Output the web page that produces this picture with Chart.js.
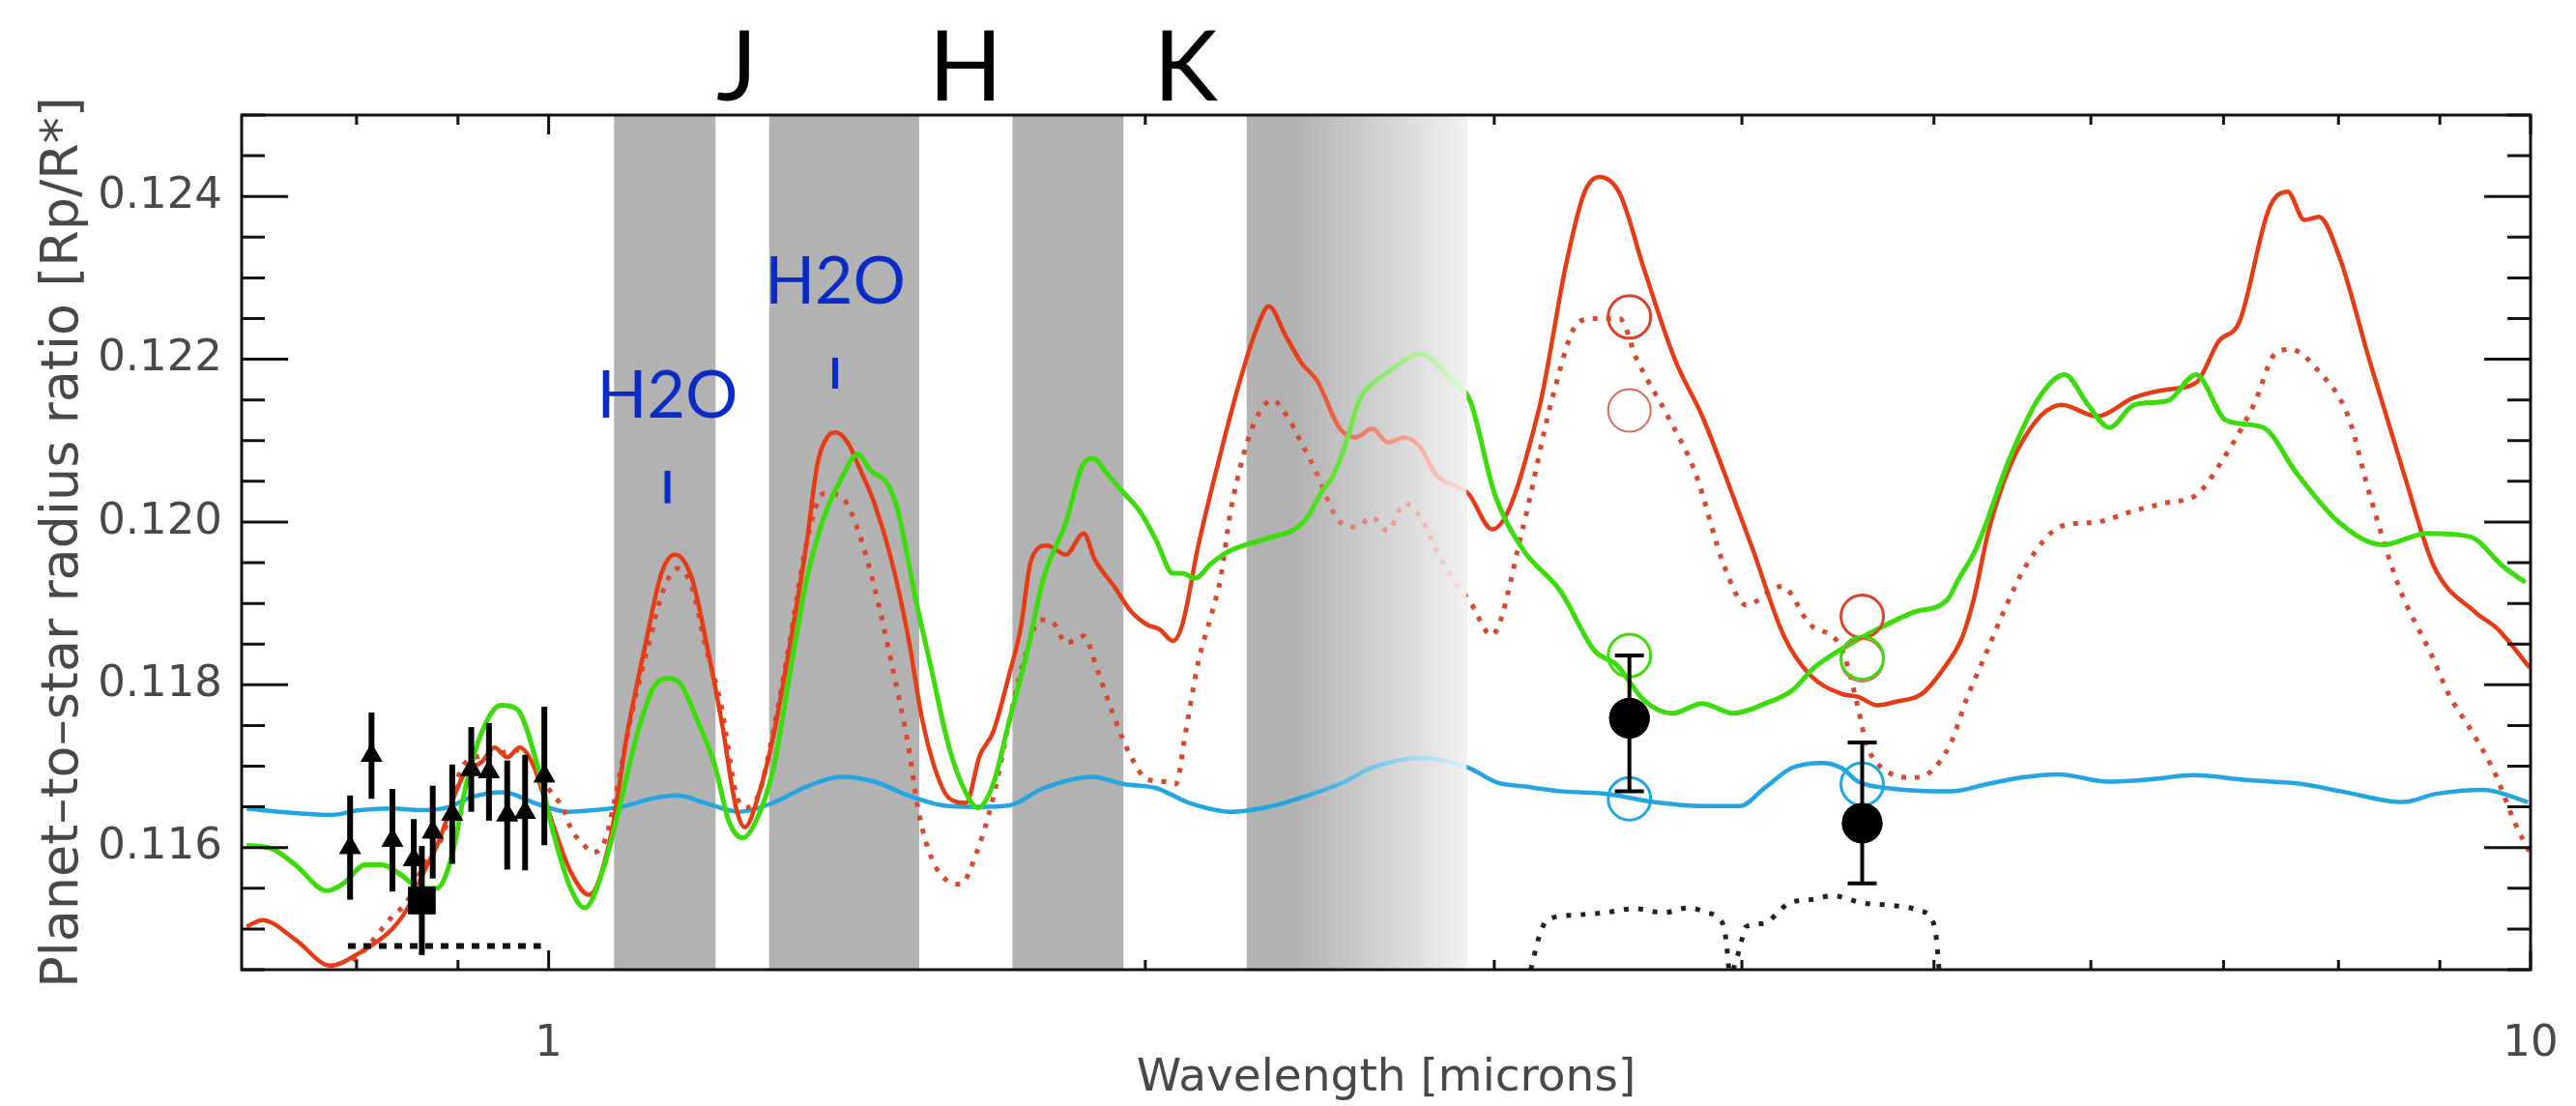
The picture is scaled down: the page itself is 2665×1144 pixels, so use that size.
<!DOCTYPE html>
<html>
<head>
<meta charset="utf-8">
<script src="https://cdn.jsdelivr.net/npm/chart.js@4.4.0/dist/chart.umd.min.js"></script>
<style>
  html, body { margin: 0; padding: 0; background: #fff; }
  canvas { display: block; }
</style>
</head>
<body>
<canvas id="graph1" width="2665" height="1144"></canvas>
<script>
// [wavelength (microns), Rp/R*]
const redSolid = [[0.704,0.11503],[0.717,0.11511],[0.745,0.11487],[0.776,0.11455],[0.803,0.11471],[0.833,0.11499],[0.849,0.11526],[0.865,0.11570],[0.881,0.11610],[0.898,0.11669],[0.908,0.11693],[0.925,0.11705],[0.939,0.11723],[0.953,0.11711],[0.967,0.11723],[0.982,0.11702],[0.997,0.11654],[1.011,0.11610],[1.027,0.11568],[1.048,0.11542],[1.074,0.11610],[1.096,0.11742],[1.118,0.11845],[1.140,0.11937],[1.158,0.11960],[1.181,0.11931],[1.204,0.11839],[1.223,0.11753],[1.243,0.11650],[1.256,0.11625],[1.277,0.11667],[1.298,0.11736],[1.324,0.11851],[1.350,0.11977],[1.366,0.12069],[1.382,0.12104],[1.396,0.12110],[1.415,0.12098],[1.437,0.12063],[1.460,0.12023],[1.489,0.11954],[1.519,0.11857],[1.543,0.11759],[1.567,0.11696],[1.592,0.11661],[1.624,0.11655],[1.650,0.11713],[1.676,0.11742],[1.709,0.11816],[1.730,0.11868],[1.752,0.11954],[1.784,0.11971],[1.824,0.11960],[1.862,0.11986],[1.886,0.11954],[1.930,0.11920],[1.966,0.11891],[2.004,0.11874],[2.034,0.11868],[2.065,0.11854],[2.088,0.11874],[2.127,0.11971],[2.175,0.12069],[2.225,0.12161],[2.275,0.12236],[2.309,0.12265],[2.353,0.12230],[2.397,0.12196],[2.443,0.12173],[2.507,0.12115],[2.555,0.12104],[2.603,0.12115],[2.652,0.12098],[2.702,0.12104],[2.753,0.12092],[2.804,0.12058],[2.911,0.12035],[2.993,0.11991],[3.160,0.12139],[3.260,0.12315],[3.330,0.12404],[3.390,0.12424],[3.470,0.12404],[3.570,0.12311],[3.700,0.12200],[3.820,0.12130],[3.920,0.12060],[4.050,0.11967],[4.200,0.11860],[4.330,0.11812],[4.490,0.11789],[4.580,0.11785],[4.680,0.11775],[4.780,0.11779],[4.930,0.11789],[5.060,0.11821],[5.170,0.11860],[5.240,0.11908],[5.330,0.11991],[5.520,0.12092],[5.800,0.12144],[6.040,0.12130],[6.310,0.12153],[6.560,0.12163],[6.780,0.12171],[6.960,0.12222],[7.130,0.12246],[7.380,0.12385],[7.540,0.12406],[7.690,0.12371],[7.820,0.12375],[8.010,0.12325],[8.290,0.12200],[8.630,0.12060],[8.940,0.11945],[9.380,0.11889],[9.630,0.11868],[9.990,0.11821]];

const redDotted = [[0.797,0.11460],[0.808,0.11475],[0.833,0.11514],[0.849,0.11535],[0.865,0.11579],[0.884,0.11614],[0.904,0.11698],[0.925,0.11713],[0.949,0.11717],[0.967,0.11720],[0.986,0.11698],[1.004,0.11666],[1.016,0.11650],[1.027,0.11622],[1.042,0.11603],[1.053,0.11594],[1.068,0.11610],[1.079,0.11655],[1.100,0.11759],[1.122,0.11845],[1.144,0.11920],[1.162,0.11943],[1.181,0.11920],[1.199,0.11851],[1.223,0.11770],[1.243,0.11667],[1.258,0.11649],[1.277,0.11667],[1.298,0.11742],[1.324,0.11857],[1.350,0.11977],[1.377,0.12035],[1.404,0.12032],[1.421,0.12012],[1.443,0.11966],[1.466,0.11902],[1.489,0.11828],[1.519,0.11724],[1.537,0.11644],[1.561,0.11586],[1.592,0.11558],[1.614,0.11555],[1.643,0.11592],[1.676,0.11661],[1.709,0.11759],[1.736,0.11828],[1.771,0.11880],[1.800,0.11874],[1.824,0.11851],[1.862,0.11860],[1.893,0.11816],[1.930,0.11759],[1.966,0.11713],[2.004,0.11684],[2.049,0.11681],[2.072,0.11678],[2.096,0.11742],[2.127,0.11828],[2.159,0.11885],[2.183,0.11931],[2.208,0.12012],[2.241,0.12081],[2.275,0.12127],[2.318,0.12150],[2.362,0.12127],[2.397,0.12098],[2.443,0.12058],[2.470,0.12029],[2.507,0.12000],[2.555,0.11994],[2.603,0.12006],[2.652,0.11989],[2.702,0.12023],[2.753,0.12006],[2.804,0.11966],[2.857,0.11931],[2.920,0.11900],[2.990,0.11861],[3.100,0.11991],[3.210,0.12153],[3.310,0.12246],[3.370,0.12250],[3.470,0.12250],[3.540,0.12200],[3.670,0.12130],[3.790,0.12060],[3.920,0.11945],[4.020,0.11898],[4.190,0.11921],[4.330,0.11874],[4.490,0.11845],[4.580,0.11770],[4.620,0.11729],[4.740,0.11693],[4.880,0.11686],[4.980,0.11693],[5.100,0.11729],[5.190,0.11781],[5.300,0.11833],[5.420,0.11889],[5.560,0.11945],[5.800,0.11995],[6.040,0.12000],[6.310,0.12014],[6.560,0.12024],[6.780,0.12033],[7.020,0.12083],[7.250,0.12144],[7.440,0.12208],[7.570,0.12212],[7.820,0.12185],[8.090,0.12130],[8.290,0.12036],[8.580,0.11921],[8.920,0.11835],[9.090,0.11789],[9.350,0.11741],[9.600,0.11690],[9.820,0.11630],[9.990,0.11594]];

const green = [[0.704,0.11603],[0.726,0.11598],[0.745,0.11579],[0.773,0.11547],[0.788,0.11556],[0.808,0.11579],[0.824,0.11579],[0.842,0.11567],[0.862,0.11550],[0.878,0.11550],[0.894,0.11591],[0.908,0.11674],[0.925,0.11741],[0.946,0.11775],[0.964,0.11770],[0.986,0.11705],[1.005,0.11620],[1.025,0.11552],[1.043,0.11526],[1.066,0.11575],[1.087,0.11655],[1.109,0.11742],[1.131,0.11799],[1.151,0.11808],[1.167,0.11799],[1.190,0.11753],[1.213,0.11701],[1.233,0.11632],[1.253,0.11612],[1.272,0.11632],[1.298,0.11696],[1.324,0.11816],[1.350,0.11931],[1.377,0.12006],[1.404,0.12052],[1.432,0.12083],[1.454,0.12063],[1.483,0.12046],[1.501,0.12012],[1.531,0.11908],[1.561,0.11816],[1.592,0.11724],[1.624,0.11667],[1.646,0.11649],[1.676,0.11678],[1.709,0.11759],[1.743,0.11839],[1.777,0.11931],[1.824,0.12000],[1.859,0.12069],[1.882,0.12078],[1.915,0.12058],[1.952,0.12035],[1.989,0.12012],[2.026,0.11977],[2.065,0.11937],[2.088,0.11937],[2.119,0.11931],[2.159,0.11949],[2.200,0.11963],[2.241,0.11971],[2.284,0.11977],[2.327,0.11983],[2.371,0.11989],[2.415,0.12006],[2.452,0.12035],[2.489,0.12058],[2.526,0.12098],[2.565,0.12150],[2.613,0.12173],[2.652,0.12184],[2.692,0.12196],[2.753,0.12207],[2.804,0.12196],[2.857,0.12173],[2.917,0.12149],[3.000,0.12036],[3.100,0.11967],[3.240,0.11915],[3.370,0.11842],[3.460,0.11824],[3.570,0.11781],[3.690,0.11765],[3.820,0.11777],[3.960,0.11765],[4.110,0.11777],[4.240,0.11793],[4.350,0.11821],[4.500,0.11845],[4.680,0.11868],[4.880,0.11889],[5.080,0.11905],[5.140,0.11928],[5.250,0.11967],[5.470,0.12083],[5.650,0.12153],[5.820,0.12181],[5.980,0.12144],[6.130,0.12116],[6.310,0.12144],[6.560,0.12149],[6.780,0.12181],[7.020,0.12125],[7.330,0.12116],[7.620,0.12060],[8.010,0.11999],[8.420,0.11972],[8.870,0.11986],[9.320,0.11982],[9.690,0.11945],[9.940,0.11926]];

const blue = [[0.704,0.11648],[0.731,0.11644],[0.776,0.11640],[0.803,0.11646],[0.833,0.11648],[0.865,0.11646],[0.891,0.11650],[0.914,0.11662],[0.949,0.11668],[0.986,0.11654],[1.023,0.11644],[1.054,0.11646],[1.087,0.11650],[1.131,0.11661],[1.162,0.11664],[1.199,0.11655],[1.248,0.11644],[1.298,0.11655],[1.350,0.11675],[1.404,0.11687],[1.460,0.11681],[1.519,0.11664],[1.580,0.11652],[1.643,0.11650],[1.709,0.11652],[1.777,0.11673],[1.880,0.11687],[1.952,0.11678],[2.026,0.11673],[2.104,0.11655],[2.208,0.11644],[2.327,0.11652],[2.415,0.11664],[2.507,0.11678],[2.603,0.11698],[2.753,0.11710],[2.911,0.11698],[3.010,0.11680],[3.110,0.11675],[3.250,0.11669],[3.420,0.11666],[3.610,0.11656],[3.820,0.11651],[3.990,0.11651],[4.110,0.11674],[4.240,0.11698],[4.390,0.11704],[4.490,0.11698],[4.580,0.11681],[4.740,0.11673],[5.100,0.11669],[5.320,0.11678],[5.530,0.11686],[5.780,0.11690],[6.120,0.11681],[6.440,0.11684],[6.760,0.11689],[7.190,0.11683],[7.670,0.11678],[8.030,0.11669],[8.620,0.11656],[8.960,0.11666],[9.470,0.11671],[9.970,0.11656]];

// IRAC band responses (dotted, bottom)
const irac1Band = [[3.13,0.11450],[3.16,0.11490],[3.19,0.11511],[3.29,0.11517],[3.41,0.11520],[3.53,0.11525],[3.65,0.11520],[3.76,0.11526],[3.84,0.11520],[3.89,0.11514],[3.92,0.11499],[3.93,0.11479],[3.94,0.11450]];
const irac2Band = [[3.96,0.11450],[3.98,0.11467],[4.00,0.11487],[4.02,0.11503],[4.11,0.11507],[4.17,0.11520],[4.22,0.11531],[4.36,0.11537],[4.44,0.11541],[4.60,0.11532],[4.76,0.11529],[4.91,0.11523],[4.99,0.11511],[5.01,0.11495],[5.02,0.11475],[5.03,0.11450]];
const opticalBand = [[0.792,0.11479],[0.991,0.11479]];

// measurements: [wavelength, value, error]
const triPoints = [[0.794,0.11600,0.00064],[0.814,0.11713,0.00053],[0.834,0.11609,0.00063],[0.855,0.11585,0.00050],[0.874,0.11619,0.00057],[0.894,0.11641,0.00061],[0.914,0.11696,0.00052],[0.933,0.11693,0.00060],[0.953,0.11640,0.00067],[0.973,0.11643,0.00071],[0.995,0.11688,0.00085]];
const squarePoints = [[0.863,0.11535,0.00067]];
// [wavelength, value, low, high]
const iracPoints = [[3.51,0.11759,0.11669,0.11836],[4.60,0.11630,0.11556,0.11729]];

// band-integrated model values
const redCircles = [[3.51,0.12252],[4.60,0.11884]];
const redCirclesFaint = [[3.51,0.12137],[4.60,0.11830]];
const greenCircles = [[3.51,0.11836],[4.60,0.11833]];
const blueCircles = [[3.51,0.11660],[4.60,0.11678]];

const xTickLabels = [1, 10];
const xMinorTicks = [0.8, 0.9, 2, 3, 4, 5, 6, 7, 8, 9];
const yTickLabels = [0.116, 0.118, 0.120, 0.122, 0.124];

const bandEdges = [[1.079,1.214],[1.292,1.538],[1.714,1.950],[2.250,2.905]];
const fadeFrom = 2.38;
const bandNames = ['J', 'H', 'K'];
const bandNameWl = [1.244, 1.623, 2.096];
const h2oWl = [1.148, 1.395];
const h2oR = [0.12154, 0.12294];
const h2oMark = [[0.12023,0.12063],[0.12164,0.12202]];

const pts = arr => arr.map(p => ({ x: p[0], y: p[1] }));

const lineSet = (data, color, width, dash, order) => ({
  data: pts(data), showLine: true, pointRadius: 0, borderColor: color, borderWidth: width,
  borderDash: dash, cubicInterpolationMode: 'monotone', order: order
});
const circleSet = (data, color, width, order) => ({
  data: pts(data), showLine: false, pointStyle: 'circle', pointRadius: 22,
  pointBackgroundColor: 'rgba(0,0,0,0)', pointBorderColor: color, pointBorderWidth: width, order: order
});

const errBars = {
  id: 'errBars',
  afterDatasetDraw(chart, args) {
    const ds = chart.data.datasets[args.index];
    if (!ds.errors) return;
    const { ctx, scales: { x, y } } = chart;
    ctx.save();
    ctx.strokeStyle = '#000';
    ds.errors.forEach(e => {
      const px = x.getPixelForValue(e[0]);
      const lo = e.length > 3 ? e[2] : e[1] - e[2];
      const hi = e.length > 3 ? e[3] : e[1] + e[2];
      const p0 = y.getPixelForValue(lo), p1 = y.getPixelForValue(hi);
      ctx.lineWidth = ds.errWidth;
      ctx.beginPath();
      ctx.moveTo(px, p0); ctx.lineTo(px, p1);
      if (ds.capHalf) {
        ctx.moveTo(px - ds.capHalf, p0); ctx.lineTo(px + ds.capHalf, p0);
        ctx.moveTo(px - ds.capHalf, p1); ctx.lineTo(px + ds.capHalf, p1);
      }
      ctx.stroke();
    });
    ctx.restore();
    // markers back on top of their bars
    args.meta.data.forEach(el => el.draw(ctx, chart.chartArea));
  }
};

const decor = {
  id: 'decor',
  beforeDatasetsDraw(chart) {
    const { ctx, chartArea: a, scales: { x } } = chart;
    ctx.save();
    ctx.fillStyle = '#b2b2b2';
    bandEdges.forEach(b => {
      const x0 = x.getPixelForValue(b[0]), x1 = x.getPixelForValue(b[1]);
      ctx.fillRect(x0, a.top, x1 - x0, a.bottom - a.top);
    });
    ctx.restore();
  },
  afterDatasetsDraw(chart) {
    const { ctx, chartArea: a, scales: { x, y } } = chart;
    ctx.save();
    // K band fades out to white
    const f0 = x.getPixelForValue(fadeFrom), f1 = x.getPixelForValue(bandEdges[3][1]);
    const g = ctx.createLinearGradient(f0, 0, f1, 0);
    g.addColorStop(0, 'rgba(255,255,255,0)');
    g.addColorStop(1, 'rgba(255,255,255,0.82)');
    ctx.fillStyle = g;
    ctx.fillRect(f0, a.top, f1 - f0, a.bottom - a.top);

    // frame + inward ticks
    ctx.strokeStyle = '#111';
    ctx.lineWidth = 3;
    ctx.strokeRect(a.left, a.top, a.right - a.left, a.bottom - a.top);
    ctx.beginPath();
    for (let k = 229; k <= 250; k++) {
      const py = y.getPixelForValue(k * 0.0005);
      const len = k % 4 === 0 ? 48 : 24;
      ctx.moveTo(a.left, py); ctx.lineTo(a.left + len, py);
      ctx.moveTo(a.right, py); ctx.lineTo(a.right - len, py);
    }
    xTickLabels.concat(xMinorTicks).forEach(v => {
      const px = x.getPixelForValue(v);
      const len = xTickLabels.includes(v) ? 20 : 10;
      ctx.moveTo(px, a.bottom); ctx.lineTo(px, a.bottom - len);
      ctx.moveTo(px, a.top); ctx.lineTo(px, a.top + len);
    });
    ctx.stroke();

    // H2O annotations
    ctx.fillStyle = '#0a2cc6';
    ctx.strokeStyle = '#0a2cc6';
    ctx.font = '68px Lato';
    ctx.textAlign = 'center';
    ctx.textBaseline = 'middle';
    h2oWl.forEach((wl, i) => {
      const px = x.getPixelForValue(wl);
      ctx.fillText('H2O', px, y.getPixelForValue(h2oR[i]));
      ctx.lineWidth = 6;
      ctx.beginPath();
      ctx.moveTo(px, y.getPixelForValue(h2oMark[i][0]));
      ctx.lineTo(px, y.getPixelForValue(h2oMark[i][1]));
      ctx.stroke();
    });

    // photometric band names above the frame
    ctx.fillStyle = '#000';
    ctx.font = '100px Lato';
    ctx.textBaseline = 'alphabetic';
    bandNames.forEach((n, i) => ctx.fillText(n, x.getPixelForValue(bandNameWl[i]), a.top - 15));
    ctx.restore();
  }
};

const tickFont = { family: 'DejaVu Sans', size: 45 };

new Chart(document.getElementById('graph1'), {
  type: 'scatter',
  data: {
    datasets: [
      Object.assign({
        data: pts(triPoints), pointStyle: 'triangle', pointRadius: 13,
        pointBackgroundColor: '#000', pointBorderWidth: 0, order: 0
      }, { errors: triPoints, errWidth: 6, capHalf: 0 }),
      Object.assign({
        data: pts(squarePoints), pointStyle: 'rect', pointRadius: 20,
        pointBackgroundColor: '#000', pointBorderWidth: 0, order: 1
      }, { errors: squarePoints, errWidth: 6, capHalf: 0 }),
      Object.assign({
        data: pts(iracPoints), pointStyle: 'circle', pointRadius: 21,
        pointBackgroundColor: '#000', pointBorderWidth: 0, order: 2
      }, { errors: iracPoints, errWidth: 4, capHalf: 15 }),
      circleSet(blueCircles, '#22a5e0', 3, 3),
      circleSet(greenCircles, '#3cdc0a', 3, 4),
      circleSet(redCircles, '#d9432a', 3, 5),
      circleSet(redCirclesFaint, '#dc6a58', 2, 6),
      lineSet(opticalBand, '#111', 6, [8, 8], 7),
      lineSet(irac1Band, '#222', 5, [5, 10], 8),
      lineSet(irac2Band, '#222', 5, [5, 10], 9),
      lineSet(green, '#3cdc0a', 5, [], 10),
      lineSet(redSolid, '#e63c16', 4.5, [], 11),
      lineSet(redDotted, '#d9482e', 5, [5, 9], 12),
      lineSet(blue, '#22a5e0', 4.5, [], 13)
    ]
  },
  options: {
    responsive: false,
    animation: false,
    devicePixelRatio: 1,
    layout: { padding: { top: 119, right: 47, left: 0, bottom: 0 } },
    plugins: { legend: { display: false }, tooltip: { enabled: false } },
    scales: {
      x: {
        type: 'logarithmic', min: 0.704, max: 10,
        grid: { display: false, drawTicks: false },
        border: { display: false },
        afterFit: s => { s.height = 141; s.paddingLeft = 0; s.paddingRight = 0; },
        afterBuildTicks: s => { s.ticks = xTickLabels.map(v => ({ value: v })); },
        ticks: { autoSkip: false, maxRotation: 0, padding: 50, color: '#484848', font: tickFont, callback: v => String(v) },
        title: { display: true, text: 'Wavelength [microns]', color: '#484848', font: { family: 'DejaVu Sans', size: 47 }, padding: { top: 0, bottom: 0 } }
      },
      y: {
        min: 0.1145, max: 0.125,
        grid: { display: false, drawTicks: false },
        border: { display: false },
        afterFit: s => { s.width = 250; },
        afterBuildTicks: s => { s.ticks = yTickLabels.map(v => ({ value: v })); },
        ticks: { autoSkip: false, padding: 20, color: '#484848', font: tickFont, callback: v => v.toFixed(3) },
        title: { display: true, text: 'Planet–to–star radius ratio [Rp/R*]', color: '#484848', font: { family: 'DejaVu Sans', size: 54 }, padding: { top: 34, bottom: 0 } }
      }
    }
  },
  plugins: [decor, errBars]
});
</script>
</body>
</html>
